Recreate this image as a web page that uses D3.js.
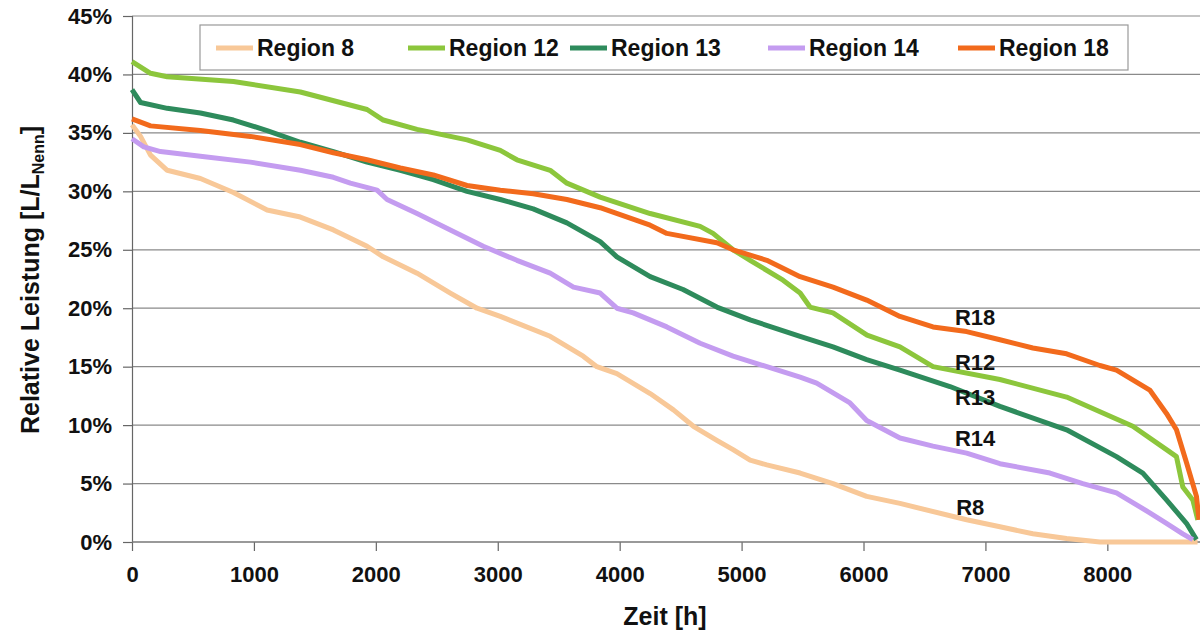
<!DOCTYPE html>
<html>
<head>
<meta charset="utf-8">
<script src="https://cdn.jsdelivr.net/npm/d3@7"></script>
<style>
	body { margin: 0; background: #fff; }
	svg { display: block; font-family: "Liberation Sans", Arial, sans-serif; font-weight: bold; }
</style>
</head>
<body>
<div id="chart"></div>
<script>
// Dauerlinien [Stunden, relative Leistung in %]
const region8 = [[0, 35.7], [70, 34.7], [152, 33.1], [289, 31.8], [561, 31.1], [832, 29.9], [1108, 28.4], [1381, 27.8], [1652, 26.7], [1928, 25.3], [2061, 24.4], [2338, 23.0], [2611, 21.3], [2830, 20.0], [3021, 19.3], [3430, 17.6], [3701, 15.9], [3813, 15.0], [3977, 14.4], [4250, 12.7], [4441, 11.3], [4605, 9.9], [4797, 8.7], [4930, 7.9], [5070, 7.0], [5207, 6.6], [5480, 5.9], [5750, 5.0], [6026, 3.9], [6299, 3.3], [6846, 1.9], [7119, 1.3], [7389, 0.7], [7666, 0.3], [7939, 0.0], [8740, 0.0]];
const region12 = [[0, 41.1], [152, 40.1], [289, 39.8], [832, 39.4], [1381, 38.5], [1928, 37.0], [2061, 36.1], [2338, 35.3], [2748, 34.4], [3021, 33.5], [3157, 32.7], [3430, 31.8], [3567, 30.7], [3840, 29.5], [4250, 28.1], [4660, 27.0], [4766, 26.4], [4930, 25.0], [5070, 24.1], [5340, 22.4], [5480, 21.3], [5561, 20.1], [5750, 19.6], [6029, 17.7], [6299, 16.7], [6570, 15.0], [7119, 13.9], [7666, 12.4], [8209, 9.9], [8485, 7.9], [8567, 7.3], [8619, 4.7], [8701, 3.6], [8742, 1.9]];
const region13 = [[0, 38.7], [70, 37.6], [289, 37.1], [561, 36.7], [832, 36.1], [1108, 35.2], [1381, 34.2], [1652, 33.4], [1928, 32.5], [2201, 31.8], [2471, 31.0], [2748, 30.0], [3021, 29.3], [3291, 28.5], [3567, 27.3], [3840, 25.7], [3977, 24.4], [4250, 22.7], [4520, 21.6], [4797, 20.1], [5070, 19.0], [5480, 17.6], [5750, 16.7], [6026, 15.6], [6299, 14.7], [6709, 13.3], [7119, 11.6], [7666, 9.6], [8075, 7.3], [8291, 5.9], [8485, 3.6], [8649, 1.6], [8731, 0.2]];
const region14 = [[0, 34.5], [97, 33.8], [234, 33.4], [561, 33.0], [971, 32.5], [1381, 31.8], [1652, 31.2], [1791, 30.7], [2010, 30.1], [2092, 29.3], [2338, 28.1], [2611, 26.7], [2881, 25.3], [3157, 24.1], [3430, 23.0], [3621, 21.8], [3840, 21.3], [3977, 20.0], [4111, 19.6], [4387, 18.4], [4660, 17.0], [4930, 15.9], [5207, 15.0], [5480, 14.1], [5616, 13.6], [5889, 11.9], [6026, 10.4], [6299, 8.9], [6570, 8.2], [6846, 7.6], [7119, 6.7], [7529, 5.9], [7799, 5.0], [8075, 4.2], [8348, 2.5], [8485, 1.6], [8619, 0.7], [8701, 0.2]];
const region18 = [[0, 36.2], [152, 35.6], [561, 35.2], [971, 34.7], [1381, 34.0], [1652, 33.3], [1928, 32.7], [2201, 32.0], [2471, 31.4], [2748, 30.5], [3021, 30.1], [3291, 29.8], [3567, 29.3], [3840, 28.6], [4250, 27.1], [4387, 26.4], [4797, 25.6], [4930, 25.0], [5207, 24.1], [5480, 22.7], [5750, 21.8], [6026, 20.7], [6299, 19.3], [6570, 18.4], [6846, 18.0], [7119, 17.3], [7389, 16.6], [7666, 16.1], [7939, 15.1], [8075, 14.7], [8348, 13.0], [8485, 11.0], [8567, 9.6], [8649, 6.8], [8731, 3.9], [8752, 1.9]];

const regionNames = ['Region 8', 'Region 12', 'Region 13', 'Region 14', 'Region 18'];
const regionColors = ['#f8c898', '#8cc63c', '#2e8b5c', '#c49cf0', '#f26a1c'];
const regionData = [region8, region12, region13, region14, region18];

// Beschriftungen an den Kurven [Text, Stunden, %]
const curveLabels = [['R18', 6750, 19.2], ['R12', 6750, 15.4], ['R13', 6750, 12.4], ['R14', 6750, 8.9], ['R8', 6760, 3.0]];

const xTicks = [0, 1000, 2000, 3000, 4000, 5000, 6000, 7000, 8000];
const yTicks = [0, 5, 10, 15, 20, 25, 30, 35, 40, 45];

const WIDTH = 1200;
const HEIGHT = 631;
const MARGIN = {top: 16, right: 0, bottom: 89, left: 132};

const svg = d3.select('#chart').append('svg')
	.attr('width', WIDTH)
	.attr('height', HEIGHT);

const x = d3.scaleLinear()
	.domain([0, 8760])
	.range([MARGIN.left, WIDTH - MARGIN.right]);

const y = d3.scaleLinear()
	.domain([0, 45])
	.range([HEIGHT - MARGIN.bottom, MARGIN.top]);

// Gitterlinien
svg.append('g')
	.selectAll('line')
	.data(yTicks.filter(d => d > 0))
	.join('line')
	.attr('x1', x(0))
	.attr('x2', WIDTH)
	.attr('y1', d => y(d))
	.attr('y2', d => y(d))
	.attr('stroke', '#8a8a8a')
	.attr('stroke-width', 1.2);

// Achsen
const yAxis = d3.axisLeft(y)
	.tickValues(yTicks)
	.tickSize(9)
	.tickFormat(d => d + '%');

svg.append('g')
	.attr('class', 'y axis')
	.attr('transform', `translate(${x(0)}, 0)`)
	.call(yAxis)
	.call(g => g.selectAll('text').attr('font-size', 22).attr('font-weight', 'bold').attr('fill', '#111').attr('x', -20))
	.call(g => g.selectAll('line, path').attr('stroke', '#666').attr('stroke-width', 1.2));

const xAxis = d3.axisBottom(x)
	.tickValues(xTicks)
	.tickSize(9)
	.tickFormat(d3.format('d'));

svg.append('g')
	.attr('class', 'x axis')
	.attr('transform', `translate(0, ${y(0)})`)
	.call(xAxis)
	.call(g => g.select('.domain').remove())
	.call(g => g.selectAll('text').attr('font-size', 22).attr('font-weight', 'bold').attr('fill', '#111').attr('y', 24))
	.call(g => g.selectAll('line').attr('stroke', '#666').attr('stroke-width', 1.2));

svg.append('line')
	.attr('x1', x(0))
	.attr('x2', WIDTH)
	.attr('y1', y(0))
	.attr('y2', y(0))
	.attr('stroke', '#777')
	.attr('stroke-width', 1.5);

// Kurven
const line = d3.line()
	.x(d => x(d[0]))
	.y(d => y(d[1]));

svg.append('g')
	.selectAll('path')
	.data(regionData)
	.join('path')
	.attr('d', line)
	.attr('fill', 'none')
	.attr('stroke', (d, i) => regionColors[i])
	.attr('stroke-width', 5)
	.attr('stroke-linejoin', 'round');

svg.append('g')
	.selectAll('text')
	.data(curveLabels)
	.join('text')
	.attr('x', d => x(d[1]))
	.attr('y', d => y(d[2]))
	.attr('dy', '0.35em')
	.attr('font-size', 22)
	.attr('fill', '#111')
	.text(d => d[0]);

// Achsentitel
svg.append('text')
	.attr('x', 665)
	.attr('y', 616)
	.attr('dy', '0.35em')
	.attr('text-anchor', 'middle')
	.attr('font-size', 25)
	.attr('fill', '#111')
	.text('Zeit [h]');

const yTitle = svg.append('text')
	.attr('transform', 'translate(30, 280) rotate(-90)')
	.attr('text-anchor', 'middle')
	.attr('dy', '0.35em')
	.attr('font-size', 25)
	.attr('fill', '#111');
yTitle.append('tspan').text('Relative Leistung [L/L');
yTitle.append('tspan').attr('font-size', 16).attr('dy', '0.3em').text('Nenn');
yTitle.append('tspan').attr('dy', '-0.2em').text(']');

// Legende
const legendX = [216, 408, 570, 768, 958];
const legend = svg.append('g');

legend.append('rect')
	.attr('x', 200)
	.attr('y', 25)
	.attr('width', 928)
	.attr('height', 45)
	.attr('fill', '#fff')
	.attr('stroke', '#999')
	.attr('stroke-width', 1.2);

const items = legend.selectAll('g')
	.data(regionNames)
	.join('g')
	.attr('transform', (d, i) => `translate(${legendX[i]}, 48)`);

items.append('line')
	.attr('x1', 0)
	.attr('x2', 37)
	.attr('stroke', (d, i) => regionColors[i])
	.attr('stroke-width', 5);

items.append('text')
	.attr('x', 41)
	.attr('dy', '0.35em')
	.attr('font-size', 23)
	.attr('fill', '#111')
	.text(d => d);
</script>
</body>
</html>
